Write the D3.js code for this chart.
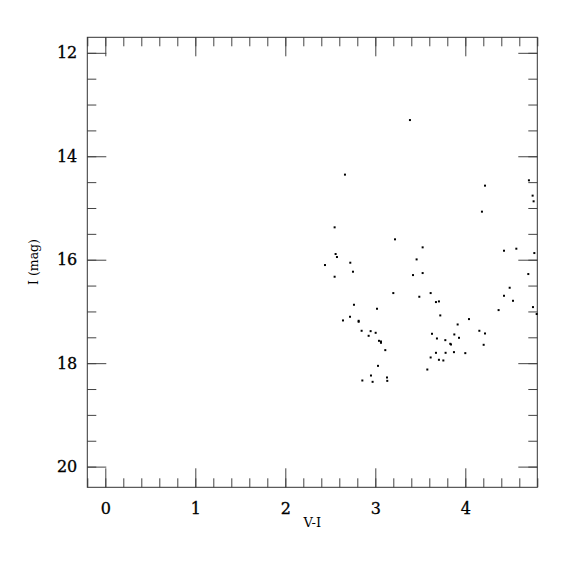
<!DOCTYPE html>
<html>
<head>
<meta charset="utf-8">
<script src="https://cdn.jsdelivr.net/npm/d3@7"></script>
<style>
  body { margin: 0; background: #fff; }
  svg { display: block; }
</style>
</head>
<body>
<div id="chart"></div>
<script>
// colour index V-I
const colorVI = [
  3.385, 2.663, 4.219, 4.707, 4.748, 4.759, 4.185, 2.548, 3.219, 3.526,
  2.559, 2.574, 4.430, 4.567, 4.767, 3.459, 2.441, 2.722, 2.752, 2.548,
  3.419, 3.526, 4.700, 3.200, 3.489, 3.615, 4.493, 4.430, 4.530, 3.674,
  3.707, 2.763, 4.752, 4.793, 3.019, 4.370, 2.719, 2.641, 2.815, 2.815,
  3.722, 4.041, 3.915, 2.848, 2.948, 3.004, 2.926, 4.156, 4.219, 3.630,
  3.685, 3.878, 3.930, 3.041, 3.063, 3.063, 3.778, 3.833, 3.841, 4.204,
  3.111, 3.674, 3.781, 3.874, 4.000, 3.615, 3.707, 3.756, 3.030, 3.578,
  2.952, 3.130, 2.856, 2.970, 3.133
];
// I magnitude
const magI = [
  13.30, 14.355, 14.568, 14.465, 14.761, 14.871, 15.071, 15.374, 15.606, 15.761,
  15.890, 15.948, 15.826, 15.787, 15.871, 15.994, 16.103, 16.058, 16.232, 16.329,
  16.297, 16.258, 16.277, 16.645, 16.716, 16.645, 16.542, 16.697, 16.794, 16.819,
  16.806, 16.871, 16.916, 17.050, 16.948, 16.974, 17.103, 17.174, 17.181, 17.200,
  17.077, 17.148, 17.252, 17.374, 17.381, 17.413, 17.471, 17.374, 17.426, 17.432,
  17.523, 17.445, 17.510, 17.568, 17.581, 17.606, 17.555, 17.626, 17.639, 17.645,
  17.748, 17.800, 17.800, 17.787, 17.806, 17.890, 17.935, 17.948, 18.052, 18.123,
  18.239, 18.277, 18.335, 18.361, 18.342
];

const xMajor = [0, 1, 2, 3, 4];
const xMinor = d3.range(-0.2, 4.81, 0.2);
const yMajor = [12, 14, 16, 18, 20];
const yMinor = d3.range(12, 20.01, 0.5);

const width = 575, height = 575;
const margin = { top: 37.3, right: 37.7, bottom: 87.7, left: 87.3 };
const w = width - margin.left - margin.right;
const h = height - margin.top - margin.bottom;

const x = d3.scaleLinear().domain([-0.2, 4.8]).range([0, w]);
const y = d3.scaleLinear().domain([11.7, 20.4]).range([0, h]);

const svg = d3.select("#chart").append("svg")
  .attr("width", width)
  .attr("height", height);

const g = svg.append("g")
  .attr("transform", `translate(${margin.left},${margin.top})`);

const font = "'DejaVu Serif', serif";

const styleAxis = (sel) => {
  sel.attr("font-family", font).attr("font-size", 16);
  sel.select(".domain").remove();
  sel.selectAll(".tick line").attr("stroke", "#444").attr("stroke-width", 1);
  sel.selectAll(".tick text")
    .attr("fill", "#000")
    .attr("stroke", "#000")
    .attr("stroke-width", 0.3);
};

// minor ticks, all four sides
g.append("g").attr("transform", `translate(0,${h})`)
  .call(d3.axisBottom(x).tickValues(xMinor).tickSize(-9).tickFormat(""))
  .call(styleAxis);
g.append("g")
  .call(d3.axisTop(x).tickValues(xMinor).tickSize(-9).tickFormat(""))
  .call(styleAxis);
g.append("g")
  .call(d3.axisLeft(y).tickValues(yMinor).tickSize(-9).tickFormat(""))
  .call(styleAxis);
g.append("g").attr("transform", `translate(${w},0)`)
  .call(d3.axisRight(y).tickValues(yMinor).tickSize(-9).tickFormat(""))
  .call(styleAxis);

// major ticks with labels
g.append("g").attr("transform", `translate(0,${h})`)
  .call(d3.axisBottom(x).tickValues(xMajor).tickSize(-19).tickPadding(15).tickFormat(d3.format("d")))
  .call(styleAxis);
g.append("g")
  .call(d3.axisTop(x).tickValues(xMajor).tickSize(-19).tickFormat(""))
  .call(styleAxis);
g.append("g")
  .call(d3.axisLeft(y).tickValues(yMajor).tickSize(-19).tickPadding(10).tickFormat(d3.format("d")))
  .call(styleAxis);
g.append("g").attr("transform", `translate(${w},0)`)
  .call(d3.axisRight(y).tickValues(yMajor).tickSize(-19).tickFormat(""))
  .call(styleAxis);

// frame
g.append("rect")
  .attr("width", w)
  .attr("height", h)
  .attr("fill", "none")
  .attr("stroke", "#333")
  .attr("stroke-width", 1);

// stars
g.append("g")
  .selectAll("rect")
  .data(colorVI.map((d, i) => [d, magI[i]]))
  .join("rect")
  .attr("x", (d) => x(d[0]) - 1)
  .attr("y", (d) => y(d[1]) - 1)
  .attr("width", 2)
  .attr("height", 2)
  .attr("fill", "#000");

// axis titles
svg.append("text")
  .attr("x", margin.left + w / 2)
  .attr("y", 527)
  .attr("text-anchor", "middle")
  .style("font-family", font)
  .style("font-size", "13px")
  .text("V-I");

svg.append("text")
  .attr("transform", `translate(37.5,262) rotate(-90)`)
  .attr("text-anchor", "middle")
  .style("font-family", font)
  .style("font-size", "12.5px")
  .text("I (mag)");
</script>
</body>
</html>
